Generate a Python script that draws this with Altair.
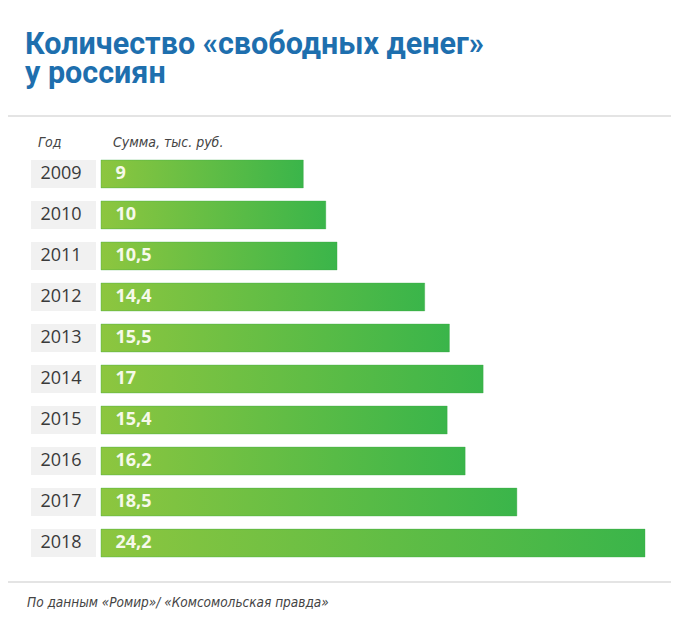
import altair as alt
import pandas as pd

# ---- data ----
years = ["2009", "2010", "2011", "2012", "2013", "2014", "2015", "2016", "2017", "2018"]
values = [9, 10, 10.5, 14.4, 15.5, 17, 15.4, 16.2, 18.5, 24.2]
labels = ["9", "10", "10,5", "14,4", "15,5", "17", "15,4", "16,2", "18,5", "24,2"]

title_lines = ["Количество «свободных денег»", "у россиян"]
col_year = "Год"
col_sum = "Сумма, тыс. руб."
source = "По данным «Ромир»/ «Комсомольская правда»"

df = pd.DataFrame({"year": years, "value": values, "label": labels})

W, H = 663, 624
NARROW = "Liberation Sans Narrow, DejaVu Sans Condensed, Open Sans"

yenc = alt.Y("year:N", axis=None, sort=years,
             scale=alt.Scale(range=[152, 549], paddingInner=0.32, paddingOuter=0))
ymid = alt.Y("year:N", axis=None, sort=years, bandPosition=0.5)
xscale = alt.Scale(domain=[0, 24.2], range=[93, 637])

base = alt.Chart(df)

year_box = base.mark_bar(color="#f1f1f1").encode(
    x=alt.value(23), x2=alt.value(88), y=yenc)

year_text = base.mark_text(font="Open Sans", fontSize=18, color="#3a3a3a",
                           align="center", baseline="middle").encode(
    x=alt.value(53), y=ymid, text="year:N")

grad = alt.LinearGradient(
    gradient="linear",
    stops=[alt.GradientStop(color="#8dc63f", offset=0),
           alt.GradientStop(color="#3ab54a", offset=1)],
    x1=0, x2=1, y1=0, y2=0)

bars = base.mark_bar(color=grad, stroke="#3aa747", strokeWidth=0.6, strokeOpacity=0.6).encode(
    x=alt.X("value:Q", axis=None, scale=xscale),
    x2=alt.datum(0),
    y=yenc)

val_text = base.mark_text(font="Open Sans", fontWeight="bold", fontSize=18, color="#f6f9ea",
                          align="left", baseline="middle").encode(
    x=alt.value(107.5), y=ymid, text="label:N")

def txt(t, x, y, **kw):
    return alt.Chart(pd.DataFrame({"t": [t]})).mark_text(align="left", baseline="alphabetic", **kw).encode(
        x=alt.value(x), y=alt.value(y), text="t:N")

t1 = txt(title_lines[0], 17, 46, font="Roboto", fontWeight="bold", fontSize=30.5, color="#1e6fae")
t2 = txt(title_lines[1], 17, 75, font="Roboto", fontWeight="bold", fontSize=30.5, color="#1e6fae")
h1 = txt(col_year, 30, 139, font=NARROW, fontStyle="italic", fontSize=14, color="#444444")
h2 = txt(col_sum, 105, 139, font=NARROW, fontStyle="italic", fontSize=14, color="#444444")
foot = txt(source, 19, 599, font=NARROW, fontStyle="italic", fontSize=13.5, color="#444444")

def hline(y):
    return alt.Chart(pd.DataFrame({"a": [0]})).mark_rect(color="#e4e4e4").encode(
        x=alt.value(0), x2=alt.value(W), y=alt.value(y - 1), y2=alt.value(y + 1))

chart = alt.layer(
    hline(108), hline(574),
    year_box, bars, year_text, val_text,
    t1, t2, h1, h2, foot
).properties(width=W, height=H, autosize=alt.AutoSizeParams(type="none"), padding=0,
             background="#ffffff"
).configure_view(strokeWidth=0, stroke="transparent", fill="#ffffff")

chart.save("out.html", embed_options={"renderer": "svg", "actions": False})
